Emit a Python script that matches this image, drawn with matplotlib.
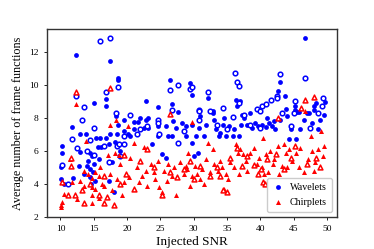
import matplotlib
matplotlib.use("Agg")
import matplotlib.pyplot as plt

plt.rcParams['font.family'] = ['Liberation Serif', 'DejaVu Serif']

# Wavelets, gefuellte Punkte (SNR, Anzahl)
wav_x = [10.1, 10.1, 10.3, 10.5, 11.7, 11.9, 12.3, 12.8, 13.0, 13.0, 10.2,
         13.9, 14.0, 14.5, 14.5, 14.4, 14.7, 14.9, 15.1, 15.4, 15.6, 15.8, 15.9, 16.1, 15.2, 14.2, 13.5, 15.0, 14.6,
         16.8, 16.8, 16.9, 17.3, 17.3, 17.4, 17.4, 17.8, 18.0, 18.2, 18.4, 18.5, 18.7, 18.7, 18.7, 19.6, 19.0, 19.5,
         21.0, 21.1, 21.6, 22.0, 22.8, 22.8, 22.5, 23.2, 23.2, 24.6, 24.6, 24.7, 20.5, 23.8, 25.3, 20.2,
         25.8, 25.8, 26.2, 26.4, 26.8, 26.8, 26.9, 27.3, 27.6, 27.7, 28.3, 28.8, 28.8, 29.4, 29.8, 29.8, 30.0, 29.8,
         30.3, 30.6, 30.8, 31.0, 31.5, 32.1, 32.9, 32.9, 33.3, 33.8, 34.4, 34.6, 34.8, 33.0, 31.8, 34.0,
         35.3, 35.9, 36.0, 36.3, 36.5, 36.8, 37.1, 37.3, 37.6, 38.4, 38.0, 38.8, 39.2, 37.0, 39.7,
         40.2, 40.8, 41.3, 41.7, 42.2, 42.6, 42.9, 43.7, 43.8, 44.3, 44.6, 41.0, 43.0, 44.0, 42.0,
         45.2, 45.2, 45.4, 45.5, 45.8, 45.9, 46.7, 47.0, 47.3, 48.0, 48.3, 48.1, 48.6, 49.0, 49.6, 49.7, 46.5, 47.8]
wav_y = [4.3, 5.0, 6.3, 4.0, 7.45, 4.35, 11.8, 5.1, 7.0, 5.95, 5.9,
         7.0, 5.1, 4.9, 5.9, 4.4, 5.7, 4.7, 8.9, 6.8, 6.25, 5.5, 6.8, 6.25, 4.2, 5.4, 4.6, 5.2, 4.0,
         8.7, 6.8, 9.15, 6.4, 4.15, 11.45, 7.0, 5.35, 3.5, 6.55, 8.1, 7.0, 10.4, 10.3, 7.6, 7.9, 6.0, 7.2,
         7.75, 7.3, 7.75, 8.0, 9.0, 7.9, 7.4, 8.0, 7.4, 8.65, 6.9, 7.5, 6.9, 6.4, 5.8, 7.0,
         7.5, 5.6, 6.9, 10.3, 8.85, 6.9, 7.8, 7.4, 8.35, 6.45, 7.7, 7.5, 6.9, 10.1, 9.4, 6.5, 5.7, 7.6,
         6.9, 5.9, 7.4, 8.1, 6.9, 9.2, 8.45, 8.3, 7.3, 6.9, 7.6, 8.0, 6.9, 7.9, 7.6, 7.1,
         7.5, 6.9, 7.3, 9.1, 8.7, 6.9, 7.6, 8.2, 8.0, 8.3, 7.6, 7.4, 7.7, 9.0, 7.5,
         7.6, 7.45, 7.7, 7.5, 7.3, 9.65, 10.2, 9.35, 8.55, 6.75, 7.3, 8.0, 7.9, 8.1, 7.8,
         8.7, 8.5, 6.75, 8.35, 8.35, 7.3, 12.85, 8.3, 8.3, 8.5, 8.9, 8.7, 7.3, 7.9, 8.2, 8.95, 7.9, 7.7]

# Wavelets, offene Punkte
wav_ox = [16.0, 17.4, 18.7, 12.3, 16.8, 13.5, 18.3, 13.3, 15.1, 11.7, 14.5, 16.5, 18.5, 18.8, 19.6, 19.6,
          15.1, 17.3, 10.2, 11.2, 22.0, 24.7, 24.7, 26.4, 27.6, 29.4, 29.8, 32.1, 26.8, 30.8, 30.8, 30.8,
          32.4, 34.4, 35.9, 36.2, 36.5, 36.8, 36.8, 37.5, 39.5, 39.9, 40.3, 40.8, 41.6, 42.5, 42.5, 42.9,
          43.2, 45.0, 45.2, 46.7, 48.7, 49.2, 49.4, 27.7, 24.8, 28.5, 33.5, 35.0, 38.5, 40.0, 44.6, 47.5,
          23.0, 20.5, 21.5, 19.0, 12.5, 14.0]
wav_oy = [12.67, 12.85, 9.9, 9.3, 9.6, 8.67, 8.3, 7.9, 7.4, 6.7, 6.65, 6.3, 6.3, 6.4, 6.4, 6.9,
          5.75, 5.3, 5.15, 4.0, 7.3, 7.9, 7.7, 9.7, 10.0, 9.75, 9.85, 9.55, 8.5, 8.5, 8.4, 7.9,
          8.4, 8.6, 8.05, 10.7, 10.2, 9.95, 8.9, 8.2, 8.55, 8.4, 8.7, 8.85, 9.1, 9.3, 9.2, 10.65,
          8.3, 8.3, 9.0, 10.4, 8.3, 8.7, 9.2, 6.5, 7.0, 7.2, 7.6, 7.3, 7.6, 7.4, 7.5, 7.4,
          7.5, 8.2, 7.0, 5.7, 6.2, 6.0]

# Chirplets, gefuellte Punkte
chp_x = [10.1, 10.3, 10.1, 12.3, 13.9, 13.5, 13.6, 14.8, 14.8, 14.8, 14.7, 11.5, 12.5, 13.0, 14.2, 10.5, 11.8,
         15.2, 15.2, 15.8, 15.8, 17.1, 17.4, 18.2, 18.3, 18.8, 19.6, 16.0, 16.5, 17.5, 18.5, 19.3, 16.2, 17.8, 19.0,
         20.1, 21.0, 22.5, 23.0, 21.5, 22.2, 23.6, 24.0, 24.6, 20.5, 21.8, 22.8, 20.3, 24.2, 24.8,
         25.3, 25.6, 26.2, 26.8, 27.3, 27.0, 28.5, 29.1, 29.5, 29.8, 29.0, 28.0, 26.0, 29.8, 28.8,
         30.2, 30.5, 31.2, 32.1, 32.9, 33.0, 33.6, 34.2, 34.8, 31.8, 30.9, 32.5, 33.9, 34.5, 31.5,
         36.3, 36.6, 37.0, 37.4, 35.5, 36.0, 37.8, 38.5, 39.0, 39.5, 40.4, 38.0, 36.8, 35.2, 39.8,
         40.2, 40.8, 41.5, 42.0, 42.6, 43.2, 43.8, 44.3, 44.8, 41.2, 42.8, 44.0, 40.6, 43.5, 41.9,
         45.4, 46.0, 46.7, 47.2, 47.6, 48.2, 48.6, 49.1, 49.4, 49.0, 45.8, 46.5, 48.0, 49.6, 47.8]
chp_y = [2.6, 2.9, 2.75, 8.85, 6.6, 4.8, 3.85, 3.8, 3.35, 2.85, 4.35, 5.5, 3.1, 4.2, 4.6, 3.4, 4.1,
         4.7, 3.7, 4.45, 3.15, 5.75, 7.6, 5.85, 7.9, 5.75, 4.1, 5.0, 3.9, 4.6, 4.3, 3.3, 4.0, 3.6, 5.2,
         7.5, 6.5, 6.25, 3.9, 5.0, 4.5, 5.2, 4.7, 5.4, 5.6, 4.1, 4.8, 4.4, 4.3, 3.8,
         3.5, 4.8, 5.2, 4.5, 3.3, 5.0, 4.6, 5.9, 3.9, 7.75, 4.9, 5.3, 4.2, 4.5, 5.1,
         5.1, 4.6, 4.9, 6.45, 6.1, 5.2, 4.8, 5.0, 4.6, 5.5, 4.3, 4.7, 5.4, 3.7, 4.0,
         6.4, 5.9, 6.1, 5.8, 5.3, 5.0, 5.4, 5.9, 6.2, 5.2, 6.8, 4.8, 4.6, 4.3, 5.6,
         5.0, 5.8, 6.0, 5.5, 6.3, 5.1, 5.9, 6.1, 5.4, 4.7, 4.6, 5.0, 4.6, 6.4, 5.2,
         5.9, 6.2, 8.4, 5.5, 6.9, 5.3, 6.1, 7.2, 5.7, 5.0, 5.0, 4.7, 4.8, 6.3, 6.0]

# Chirplets, offene Punkte
chp_ox = [12.3, 17.4, 11.6, 11.6, 10.3, 19.6, 16.5, 18.9, 21.0, 11.1, 12.2, 15.8, 13.5, 16.5, 18.1, 14.5,
          13.3, 17.0, 19.9, 23.0, 22.0, 24.0, 25.3, 26.5, 26.4, 27.5, 28.6, 29.5, 30.0, 31.0, 32.4, 33.5,
          34.0, 35.5, 36.5, 37.2, 38.0, 39.1, 39.6, 40.1, 41.0, 42.3, 42.6, 43.6, 44.6, 46.1, 46.7, 48.0,
          47.0, 48.3, 49.0, 45.2, 40.4, 40.7, 34.4, 35.0]
chp_oy = [9.6, 9.8, 5.6, 5.1, 4.1, 5.75, 4.45, 4.0, 3.7, 3.3, 3.3, 3.35, 2.85, 2.85, 2.75, 4.0,
          3.6, 3.2, 4.6, 6.1, 5.4, 5.0, 3.3, 4.7, 8.25, 4.4, 4.9, 5.4, 4.3, 5.1, 4.5, 5.0,
          4.5, 5.6, 6.2, 5.1, 5.7, 5.15, 4.6, 4.9, 5.5, 5.8, 8.0, 4.9, 5.6, 8.6, 9.1, 9.25,
          5.2, 5.6, 5.0, 6.3, 4.1, 4.0, 3.6, 3.5]

fig = plt.figure(figsize=(3.74, 2.49), dpi=100)
ax = fig.add_axes([0.126, 0.129, 0.775, 0.755])

ax.scatter(wav_x, wav_y, s=12, marker='o', color='blue', linewidths=0, label='Wavelets')
ax.scatter(wav_ox, wav_oy, s=11, marker='o', facecolors='white', edgecolors='blue', linewidths=1.1)
ax.scatter(chp_x, chp_y, s=13, marker='^', color='red', linewidths=0, label='Chirplets')
ax.scatter(chp_ox, chp_oy, s=12, marker='^', facecolors='white', edgecolors='red', linewidths=1.1)

ax.set_xlim(8, 51.5)
ax.set_ylim(2, 13.4)
ax.set_xticks([10, 15, 20, 25, 30, 35, 40, 45, 50])
ax.set_yticks([2, 4, 6, 8, 10, 12])
ax.tick_params(labelsize=6.8, length=2.5, width=0.6)
ax.set_xlabel("Injected SNR", fontsize=9.5, labelpad=2)
ax.set_ylabel("Average number of frame functions", fontsize=8.7, labelpad=4)
for s in ax.spines.values():
    s.set_color('#333333')
    s.set_linewidth(1.0)

ax.legend(loc='lower right', fontsize=7.2, markerscale=1.0, handletextpad=0.6,
          borderpad=0.5, labelspacing=0.6, handlelength=1.2, fancybox=True,
          framealpha=1, edgecolor='#cccccc')

fig.savefig("out.png", dpi=100)
